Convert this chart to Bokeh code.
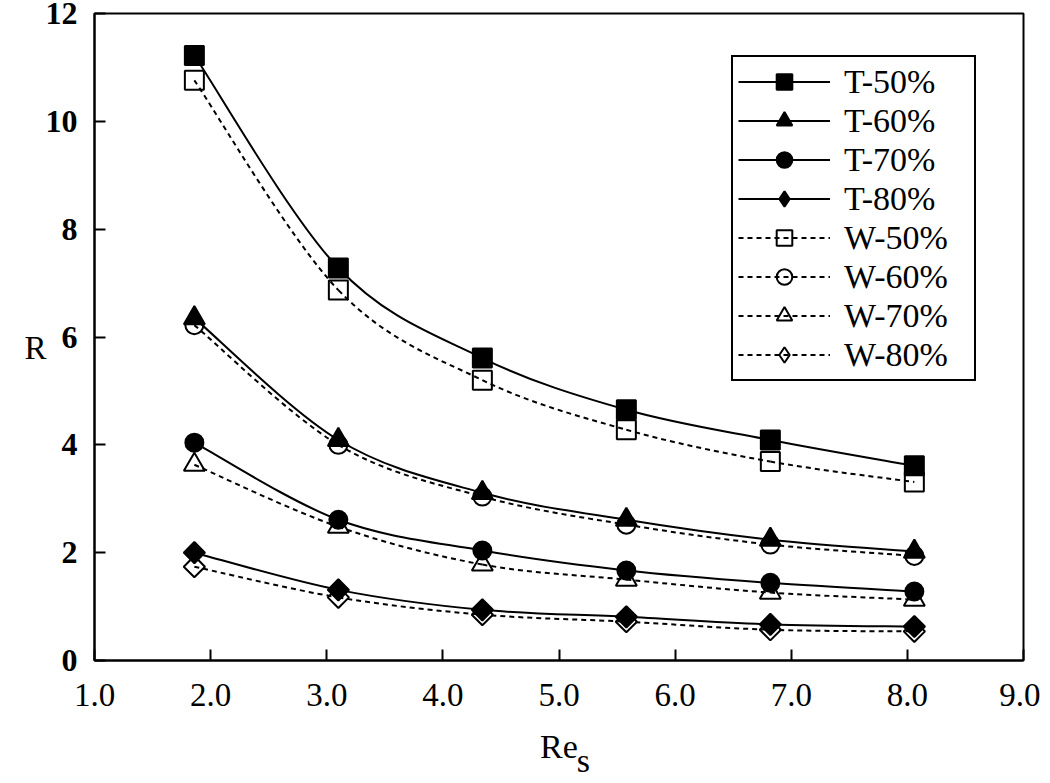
import numpy as np
from bokeh.plotting import figure
from bokeh.models import Legend, LegendItem, FixedTicker, Range1d, PrintfTickFormatter, LinearAxis
from bokeh.embed import file_html
from bokeh.resources import INLINE

res_s = [1.86, 3.10, 4.34, 5.58, 6.82, 8.06]
t50 = [11.22, 7.28, 5.61, 4.65, 4.09, 3.61]
t60 = [6.35, 4.09, 3.11, 2.61, 2.24, 2.02]
t70 = [4.04, 2.61, 2.04, 1.67, 1.44, 1.28]
t80 = [2.00, 1.31, 0.94, 0.81, 0.67, 0.63]
w50 = [10.76, 6.87, 5.20, 4.28, 3.69, 3.31]
w60 = [6.22, 4.00, 3.04, 2.52, 2.15, 1.94]
w70 = [3.63, 2.48, 1.78, 1.50, 1.26, 1.13]
w80 = [1.74, 1.17, 0.85, 0.72, 0.57, 0.54]

x_ticks = [1, 2, 3, 4, 5, 6, 7, 8, 9]
y_ticks = [0, 2, 4, 6, 8, 10, 12]

series = [
    ("T-50%", t50, "square", True),
    ("T-60%", t60, "triangle", True),
    ("T-70%", t70, "circle", True),
    ("T-80%", t80, "diamond", True),
    ("W-50%", w50, "square", False),
    ("W-60%", w60, "circle", False),
    ("W-70%", w70, "triangle", False),
    ("W-80%", w80, "diamond", False),
]
# in the plot the diamond is drawn as a square turned by 45 degrees
marker_glyph = {"square": ("square", 19, 0.0), "triangle": ("triangle", 21, 0.0),
                "circle": ("circle", 18, 0.0), "diamond": ("square", 15, np.pi / 4)}

SERIF = "Liberation Serif"

p = figure(width=1040, height=781, x_range=Range1d(1, 9), y_range=Range1d(0, 12),
           output_backend="svg", toolbar_location=None,
           min_border_left=94, min_border_right=17, min_border_top=13, min_border_bottom=120)
p.grid.visible = False
p.outline_line_color = "black"
p.outline_line_width = 2
p.outline_line_alpha = 1.0

for ax in (p.xaxis[0], p.yaxis[0]):
    ax.axis_line_width = 2
    ax.major_tick_line_width = 2
    ax.major_tick_in = 11
    ax.major_tick_out = 0
    ax.minor_tick_line_color = None
    ax.major_label_text_font = SERIF
    ax.major_label_text_font_size = "33px"
    ax.major_label_text_color = "black"
    ax.axis_line_color = "black"
    ax.major_tick_line_color = "black"

p.xaxis.ticker = FixedTicker(ticks=x_ticks)
p.xaxis.formatter = PrintfTickFormatter(format="%.1f")
p.xaxis.major_label_standoff = 23
p.xaxis.axis_label = "Re"
p.xaxis.axis_label_standoff = 19
p.xaxis.axis_label_text_font = SERIF
p.xaxis.axis_label_text_font_style = "normal"
p.xaxis.axis_label_text_font_size = "34px"
p.xaxis.axis_label_text_color = "black"

p.yaxis.ticker = FixedTicker(ticks=y_ticks)
p.yaxis.major_label_text_font_size = "32px"
p.yaxis.major_label_text_font_style = "bold"
p.yaxis.major_label_standoff = 17

# subscript "s" of Re_s, as the single label of an extra bare axis
sub_axis = LinearAxis(ticker=FixedTicker(ticks=[5.21]), major_label_overrides={5.21: "s"},
                      axis_line_color=None, major_tick_line_color=None, minor_tick_line_color=None,
                      major_label_standoff=-32, major_label_text_font=SERIF,
                      major_label_text_font_size="34px", major_label_text_color="black")
p.add_layout(sub_axis, "below")

# "R" y-axis title, as the single label of an extra bare axis
r_axis = LinearAxis(ticker=FixedTicker(ticks=[5.8]), major_label_overrides={5.8: "R"},
                    axis_line_color=None, major_tick_line_color=None, minor_tick_line_color=None,
                    major_label_standoff=-10, major_label_text_font=SERIF,
                    major_label_text_font_size="33px", major_label_text_color="black")
p.add_layout(r_axis, "left")

x = np.array(res_s)
items = []
for name, ys, marker, solid in series:
    y = np.array(ys)
    xp = np.concatenate([[x[0]], x, [x[-1]]])
    yp = np.concatenate([[y[0]], y, [y[-1]]])
    n = len(x)
    cx0 = x[:-1] + (xp[2:n+1] - xp[0:n-1]) / 6.0
    cy0 = y[:-1] + (yp[2:n+1] - yp[0:n-1]) / 6.0
    cx1 = x[1:] - (xp[3:n+2] - xp[1:n]) / 6.0
    cy1 = y[1:] - (yp[3:n+2] - yp[1:n]) / 6.0
    dash = "solid" if solid else "5 4"
    fill = "black" if solid else None
    ln = p.bezier(x0=x[:-1], y0=y[:-1], x1=x[1:], y1=y[1:], cx0=cx0, cy0=cy0, cx1=cx1, cy1=cy1,
                  line_color="black", line_width=2, line_dash=dash)
    mk, sz, ang = marker_glyph[marker]
    sc = p.scatter(x=x, y=y, marker=mk, size=sz, angle=ang,
                   line_color="black", line_width=2, fill_color=fill)
    if marker == "diamond":
        # legend-only diamond symbol (the rotated square is not rotated in legends)
        key = p.scatter(x=x, y=y, marker="diamond", size=sz, line_color="black",
                        line_width=2, fill_color=fill, visible=False)
        items.append(LegendItem(label=name, renderers=[ln, key]))
    else:
        items.append(LegendItem(label=name, renderers=[ln, sc]))

legend = Legend(items=items, location=(637, 279),
                border_line_color="black", border_line_width=2, border_line_alpha=1.0,
                label_text_font=SERIF, label_text_font_size="34px",
                label_text_color="black", label_text_baseline="middle",
                glyph_width=92, glyph_height=39, label_height=39, label_width=125,
                spacing=0, padding=5, label_standoff=14,
                background_fill_alpha=1.0)
p.add_layout(legend)

open("out.html", "w").write(file_html(p, INLINE))
